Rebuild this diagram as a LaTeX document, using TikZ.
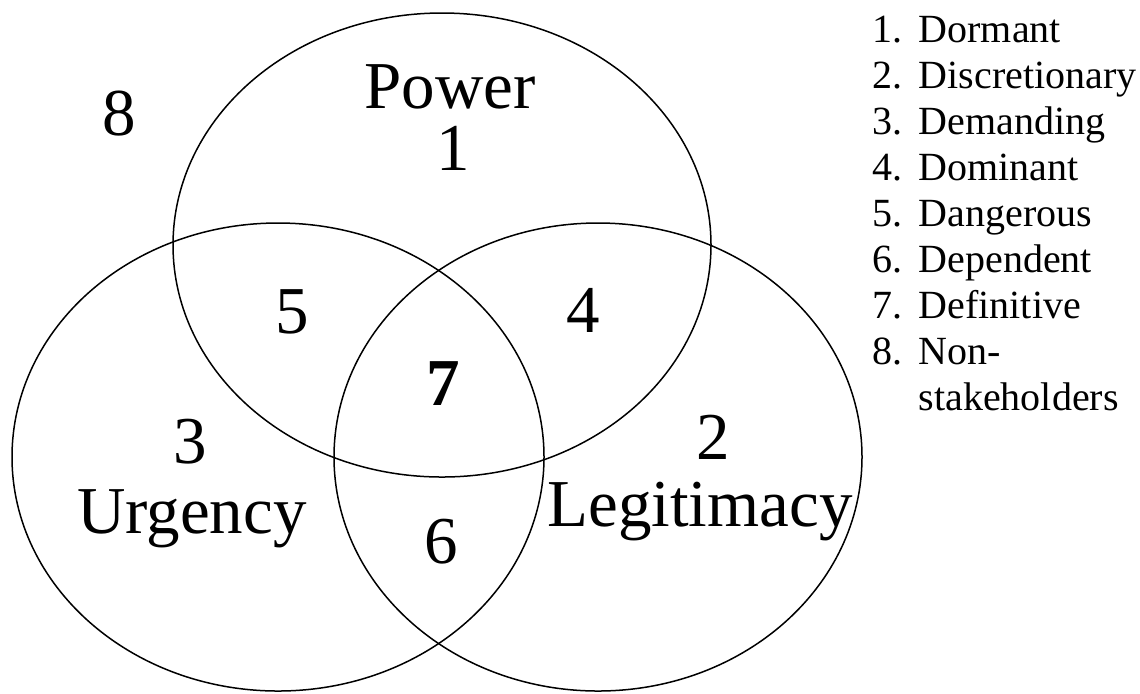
\documentclass[tikz,border=0pt]{standalone}
\usepackage{fontspec}
\setmainfont{Liberation Serif}
\usepackage{tikz}

\tikzset{
  region/.style={anchor=base, inner sep=0pt, font=\fontsize{33.5}{40}\selectfont},
  legend/.style={anchor=base west, inner sep=0pt, font=\fontsize{20}{24}\selectfont}
}

\begin{document}
\begin{tikzpicture}[x=0.5pt, y=-0.5pt, line width=0.75pt]
    \useasboundingbox (0,0) rectangle (1140,693);

    % Power circle
    \draw (442,245) ellipse [x radius=134.5pt, y radius=116pt];
    % Urgency circle
    \draw (278,457) ellipse [x radius=133pt, y radius=117pt];
    % Legitimacy circle
    \draw (598,457) ellipse [x radius=132pt, y radius=117pt];

    % Labels and regions
    \node[region] (power) at (450,108) {Power};
    \node[region] (r1) at (453,170) {1};
    \node[region] (r8) at (119,135) {8};
    \node[region] (r5) at (292,333) {5};
    \node[region] (r4) at (583,332) {4};
    \node[region, font=\fontsize{33.5}{40}\selectfont\bfseries] (r7) at (443,405) {7};
    \node[region] (r3) at (190,463) {3};
    \node[region] (urgency) at (192,533) {Urgency};
    \node[region] (r2) at (713,459) {2};
    \node[region] (legitimacy) at (700,526) {Legitimacy};
    \node[region] (r6) at (441,563) {6};

    % Legend
    \foreach \n/\txt [count=\i] in {1/Dormant, 2/Discretionary, 3/Demanding, 4/Dominant,
        5/Dangerous, 6/Dependent, 7/Definitive, 8/Non-} {
      \node[legend] (num\i) at (872,{42+46*(\i-1)}) {\n.};
      \node[legend] (item\i) at (918,{42+46*(\i-1)}) {\txt};
    }
    \node[legend] (item9) at (918,410) {stakeholders};
\end{tikzpicture}
\end{document}
